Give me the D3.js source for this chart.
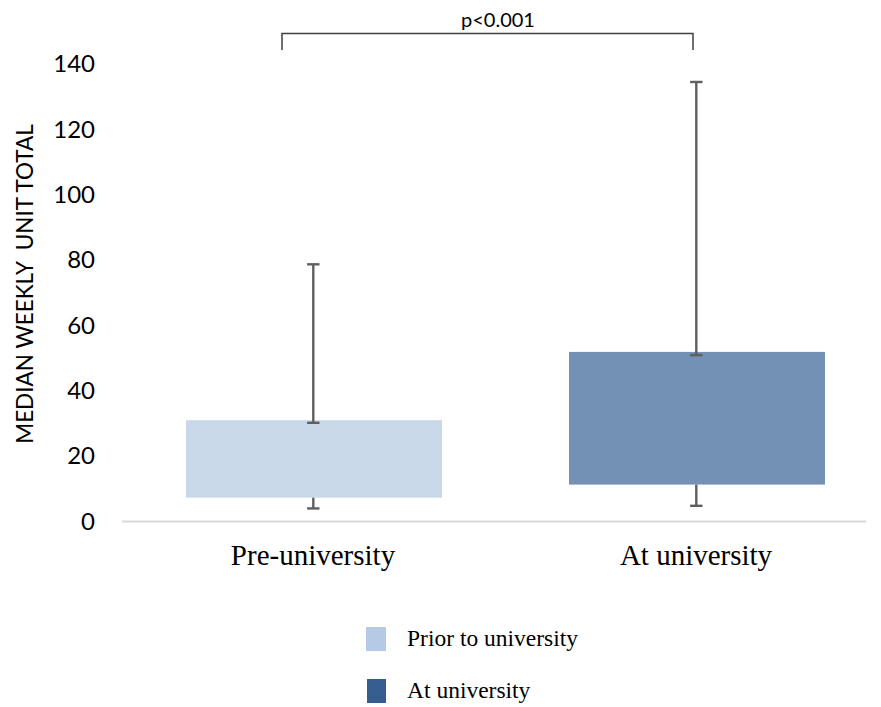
<!DOCTYPE html>
<html><head><meta charset="utf-8">
<script src="https://cdn.jsdelivr.net/npm/d3@7"></script>
<style>body{margin:0;background:#fff}svg{display:block}</style>
</head><body>
<svg id="c" width="881" height="707"></svg>
<script>
const categories = ["Pre-university", "At university"];
const boxLow = [7.3, 11.3];
const boxHigh = [31.0, 51.9];
const whiskerLow = [4.0, 4.8];
const whiskerMid = [30.2, 50.9];
const whiskerHigh = [78.7, 134.5];
const yTicks = [0, 20, 40, 60, 80, 100, 120, 140];
const legendLabels = ["Prior to university", "At university"];
const pLabel = "p<0.001";
const yTitle = "MEDIAN WEEKLY\u00A0\u00A0UNIT TOTAL";

const barColors = ["#c9d8e9", "#7390b5"];
const legendColors = ["#b5cae5", "#355d8f"];

const svg = d3.select("#c");
const y = d3.scaleLinear().domain([0, 140]).range([521.5, 64]);
const x = d3.scaleBand().domain(categories).range([122.5, 888.5]).paddingInner(0.3316).paddingOuter(0.1658);
const cx = c => x(c) + x.bandwidth() / 2;

// axis baseline
svg.append("line").attr("x1", 122).attr("x2", 866).attr("y1", y(0)).attr("y2", y(0))
  .attr("stroke", "#d9d9d9").attr("stroke-width", 2);

// y axis labels
const ya = svg.append("g").attr("transform", "translate(122,0)")
  .call(d3.axisLeft(y).tickValues(yTicks).tickSize(0).tickPadding(27));
ya.select(".domain").remove();
ya.selectAll("text").attr("font-family", "Lato, 'Open Sans', sans-serif").attr("font-size", 24).attr("fill", "#000");

// y title
svg.append("text").attr("transform", "translate(33,284) rotate(-90)")
  .attr("text-anchor", "middle").attr("font-family", "Lato, 'Open Sans', sans-serif")
  .attr("font-size", 22.5).attr("fill", "#000").text(yTitle);

// bars
svg.selectAll("rect.bar").data(categories).join("rect").attr("class", "bar")
  .attr("x", d => x(d)).attr("width", x.bandwidth())
  .attr("y", (d, i) => y(boxHigh[i])).attr("height", (d, i) => y(boxLow[i]) - y(boxHigh[i]))
  .attr("fill", (d, i) => barColors[i]);

// whiskers
const wc = "#5f5f5f", cap = 6.2;
const g = svg.append("g").attr("stroke", wc).attr("stroke-width", 2.4);
categories.forEach((c, i) => {
  const xc = cx(c) - 0.7;
  g.append("line").attr("x1", xc).attr("x2", xc).attr("y1", y(whiskerMid[i])).attr("y2", y(whiskerHigh[i]));
  g.append("line").attr("x1", xc - cap).attr("x2", xc + cap).attr("y1", y(whiskerHigh[i])).attr("y2", y(whiskerHigh[i]));
  g.append("line").attr("x1", xc - cap).attr("x2", xc + cap).attr("y1", y(whiskerMid[i])).attr("y2", y(whiskerMid[i]));
  g.append("line").attr("x1", xc).attr("x2", xc).attr("y1", y(boxLow[i])).attr("y2", y(whiskerLow[i]));
  g.append("line").attr("x1", xc - cap).attr("x2", xc + cap).attr("y1", y(whiskerLow[i])).attr("y2", y(whiskerLow[i]));
});

// x labels
svg.selectAll("text.xl").data(categories).join("text").attr("class", "xl")
  .attr("x", d => cx(d) - 1).attr("y", 565).attr("text-anchor", "middle")
  .attr("font-family", "'Liberation Serif', 'Times New Roman', serif").attr("font-size", 29)
  .attr("fill", "#000").text(d => d);

// significance bracket
const bx1 = cx(categories[0]) - 32, bx2 = cx(categories[1]) - 4, by = 33.5;
svg.append("path").attr("d", `M${bx1},50V${by}H${bx2}V50`).attr("fill", "none")
  .attr("stroke", "#404040").attr("stroke-width", 1.5);
svg.append("text").attr("x", 498).attr("y", 27).attr("text-anchor", "middle")
  .attr("font-family", "Lato, 'Open Sans', sans-serif").attr("font-size", 20).attr("fill", "#000").text(pLabel);

// legend
const lg = svg.append("g");
legendLabels.forEach((t, i) => {
  const yy = 627 + i * 52;
  lg.append("rect").attr("x", 366 + i).attr("y", yy).attr("width", 20 - i).attr("height", 24).attr("fill", legendColors[i]);
  lg.append("text").attr("x", 407).attr("y", yy + 19).attr("font-family", "'Liberation Serif', 'Times New Roman', serif")
    .attr("font-size", 23.5).attr("fill", "#000").text(t);
});
</script>
</body></html>
